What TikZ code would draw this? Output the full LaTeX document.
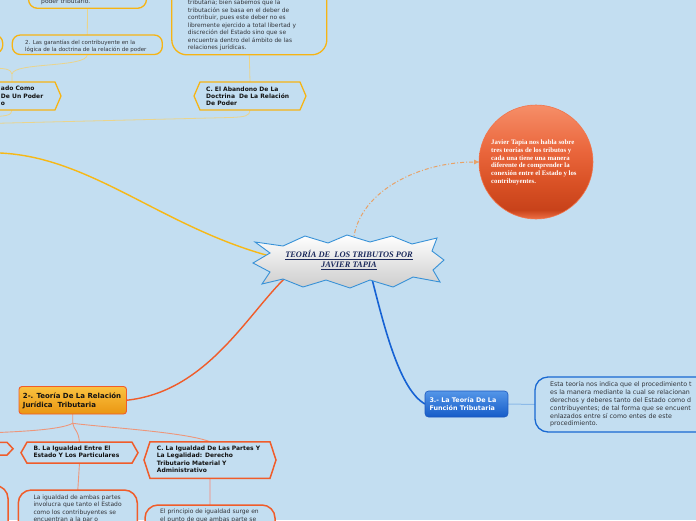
\documentclass[tikz,border=0pt]{standalone}
\usepackage{fontspec}
\setmainfont{DejaVu Sans}
\newfontfamily\serifbf{Liberation Serif}
\usetikzlibrary{arrows.meta}
\pgfdeclarelayer{bgl}
\pgfsetlayers{bgl,main}
\definecolor{bg}{RGB}{195,222,241}
\definecolor{ycol}{RGB}{246,180,20}
\definecolor{ylink}{RGB}{234,212,140}
\definecolor{ymain}{RGB}{247,184,22}
\definecolor{ocol}{RGB}{240,92,42}
\definecolor{olink}{RGB}{238,150,122}
\definecolor{plink}{RGB}{214,190,196}
\definecolor{bcol}{RGB}{22,98,212}
\definecolor{blink}{RGB}{140,186,232}
\definecolor{rbord}{RGB}{25,105,210}
\definecolor{dcol}{RGB}{232,162,104}
\definecolor{starb}{RGB}{55,145,215}
\definecolor{navy}{RGB}{28,42,92}
\definecolor{tgrey}{RGB}{50,52,58}
\definecolor{tblack}{RGB}{18,18,18}
\definecolor{bt1}{RGB}{84,150,232}
\definecolor{bt2}{RGB}{22,92,200}
\definecolor{bbord}{RGB}{28,88,190}
\definecolor{ot1}{RGB}{250,194,64}
\definecolor{ot2}{RGB}{234,150,18}
\definecolor{cb1}{RGB}{246,142,104}
\definecolor{cb2}{RGB}{234,102,60}
\definecolor{cb3}{RGB}{216,80,36}
\definecolor{cb4}{RGB}{200,66,26}
\definecolor{cb5}{RGB}{238,112,70}
\pgfdeclareverticalshading{circsh}{100bp}{color(0bp)=(cb5); color(25bp)=(cb5); color(29bp)=(cb4); color(40bp)=(cb3); color(55bp)=(cb2); color(75bp)=(cb1); color(100bp)=(cb1)}
\newcommand\fs[2]{\fontsize{#1}{#2}\selectfont}
\newcommand\tp{\rule{0pt}{0.95em}}
\newcommand\hexdraw[2]{\draw[#2] (#1.north west) -- (#1.north east) -- ([xshift=6pt]#1.east) -- (#1.south east) -- (#1.south west) -- ([xshift=-6pt]#1.west) -- cycle;}

\begin{document}
\begin{tikzpicture}[x=1pt,y=-1pt,
 shp/.style={inner sep=0pt, outer sep=0pt},
 ybox/.style={shp, fill=bg, draw=ycol, line width=1.3pt, rounded corners=#1},
 ybox/.default=8pt,
 obox/.style={shp, fill=bg, draw=ocol, line width=1.5pt, rounded corners=13pt},
 hexy/.style={fill=bg, draw=ycol, line width=1.3pt},
 hexo/.style={fill=bg, draw=ocol, line width=1.5pt},
 txt/.style={anchor=north west, inner sep=0pt, align=left},
 body/.style={txt, text=tgrey, font=\fs{6}{7.6}},
 boldt/.style={txt, text=tblack, font=\bfseries\fs{6}{7.4}},
 ythin/.style={draw=ylink, line width=0.8pt},
 othin/.style={draw=olink, line width=0.9pt},
]
\useasboundingbox (0,0) rectangle (696,520);
\begin{pgfonlayer}{bgl}
\fill[bg] (0,0) rectangle (696,520);
\end{pgfonlayer}

% ---------- upper (yellow) branch ----------
\node[ybox=9pt, minimum width=118pt, minimum height=30pt, anchor=south west] (tl) at (28.5,8.3) {};
\node[ybox=8pt, minimum width=40pt, minimum height=18.5pt, anchor=east] (lb1) at (2.7,44.2) {};
\node[ybox=8pt, minimum width=150pt, minimum height=19.5pt, anchor=north west] (g2) at (12.3,35) {};
\node[ybox=15pt, minimum width=155pt, minimum height=80pt, anchor=south west] (tb) at (171.8,54.8) {};
\node[shp, minimum width=86pt, minimum height=28pt, anchor=north] (hb) at (12,82) {};
\hexdraw{hb}{hexy}
\node[shp, minimum width=100pt, minimum height=28pt] (hc) at (250,96) {};
\hexdraw{hc}{hexy}

\node[body, anchor=west] (tlt) at (41,2.3) {poder tributario.};
\node[body, font=\fs{5.5}{7}] (g2t) at (25,38.6) {\tp 2. Las garantías del contribuyente en la\\lógica de la doctrina de la relación de poder};
\node[body, font=\fs{5.9}{7.5}] (tbt) at (187.7,-1) {\tp tributaria; bien sabemos que la\\tributación se basa en el deber de\\contribuir, pues este deber no es\\libremente ejercido a total libertad y\\discreción del Estado sino que se\\encuentra dentro del ámbito de las\\relaciones jurídicas.};
\node[boldt] (hbt) at (0.8,84.9) {\tp ado Como\\De Un Poder\\o};
\node[boldt] (hct) at (206,85.2) {\tp C. El Abandono De La\\Doctrina\ \ De La Relación\\De Poder};

% ---------- central star ----------
\path[top color=white, bottom color=black!20, draw=starb, line width=0.9pt]
 (255,242) -- (283,246) -- (305,236) -- (328,243) -- (347,235) -- (370,242) -- (392,236) -- (412,244) -- (437,238) -- (432,251) -- (444,260) -- (433,270) -- (440,282) -- (413,277) -- (393,287) -- (370,280) -- (350,288) -- (326,280) -- (303,287) -- (283,279) -- (262,284) -- (270,272) -- (253,263) -- (270,253) -- cycle;
\node[inner sep=0pt, align=center, text=navy, font=\serifbf\bfseries\itshape\fs{8.4}{10}] (root) at (349,260) {\underline{TEORÍA DE\ \ LOS TRIBUTOS POR}\\\underline{JAVIER TAPIA}};

% ---------- circle ----------
\node[circle, shp, minimum size=114pt, shading=circsh, draw=ocol!85!white, line width=0.6pt] (circ) at (536,162) {};
\node[txt, text=white, font=\serifbf\bfseries\fs{6.8}{7.7}] (circt) at (491,138) {\tp Javier Tapia nos habla sobre\\tres teorías de los tributos y\\cada una tiene una manera\\diferente de comprender la\\conexión entre el Estado y los\\contribuyentes.};

% ---------- right (blue) branch ----------
\node[shp, rounded corners=3.5pt, draw=bbord, line width=0.6pt, top color=bt1, bottom color=bt2, minimum width=83pt, minimum height=26pt, anchor=north west] (fb) at (425,391) {};
\node[txt, text=white, font=\bfseries\fs{6.4}{8}] (fbt) at (429.3,396.3) {\tp 3.- La Teoría De La\\Función Tributaria};
\node[shp, fill=bg, draw=rbord, line width=1.3pt, rounded corners=13pt, minimum width=200pt, minimum height=55pt, anchor=north west] (rb) at (535,377) {};
\node[body, font=\fs{6.3}{7.8}] (rbt) at (550,380.7) {\tp Esta teoría nos indica que el procedimiento t\\es la manera mediante la cual se relacionan\\derechos y deberes tanto del Estado como d\\contribuyentes; de tal forma que se encuent\\enlazados entre sí como entes de este\\procedimiento.};

% ---------- lower (orange) branch ----------
\node[shp, rounded corners=3pt, draw=ocol, line width=0.9pt, top color=ot1, bottom color=ot2, minimum width=107.5pt, minimum height=27.5pt, anchor=north west] (ob) at (19,386.5) {};
\node[txt, text=tblack, font=\bfseries\fs{7}{9}] (obt) at (22.7,391.5) {\tp 2-. Teoría De La Relación\\Jurídica\ \ Tributaria};
\node[shp, minimum width=60pt, minimum height=12.8pt, anchor=east] (hl) at (7,448.7) {};
\hexdraw{hl}{hexo}
\node[shp, minimum width=105pt, minimum height=21pt] (hB) at (79.5,452.7) {};
\hexdraw{hB}{hexo}
\node[shp, minimum width=120pt, minimum height=36.5pt] (hC) at (210,460) {};
\hexdraw{hC}{hexo}
\node[obox, minimum width=60pt, minimum height=60pt, anchor=north east] (lbb) at (8,485.5) {};
\node[obox, minimum width=119pt, minimum height=60pt, anchor=north west] (bb) at (18.3,490) {};
\node[obox, minimum width=130pt, minimum height=50pt, anchor=north west] (cb) at (145,505) {};

\node[boldt] (hBt) at (33.3,444.2) {\tp B. La Igualdad Entre El\\Estado Y Los Particulares};
\node[boldt, font=\bfseries\fs{6}{7.6}] (hCt) at (156.7,444.2) {\tp C. La Igualdad De Las Partes Y\\La Legalidad: Derecho\\Tributario Material Y\\Administrativo};
\node[body] (bbt) at (33.3,493.2) {\tp La igualdad de ambas partes\\involucra que tanto el Estado\\como los contribuyentes se\\encuentran a la par o};
\node[body] (cbt) at (160,507.6) {\tp El principio de igualdad surge en\\el punto de que ambas parte se};

% ---------- connectors (behind) ----------
\begin{pgfonlayer}{bgl}
\coordinate (p1) at (-20,152);
\coordinate (lbj) at (-12,68);
\coordinate (hlj) at (-12,433);
% yellow
\draw[ythin] (tl.south) -- (g2.north);
\draw[ythin] (g2.south) .. controls (87.5,68) and (14,62) .. (12,74) -- (hb.north);
\draw[ythin] (12,74) .. controls (11,69) and (5,68) .. (lbj);
\draw[ythin] (tb.south) -- (hc.north);
\draw[ythin] (hb.south) .. controls (12,116) and (5,116) .. (-12,117);
\draw[ythin] (hc.south) .. controls (250,116) and (245,117) .. (230,117.5) -- (-12,123.5);
\draw[draw=ymain, line width=1.4pt] (root.west) -- (266,255) .. controls (160,225) and (90,157) .. (0,153) -- (p1);
% dash-dot to the circle
\draw[draw=dcol, line width=1pt, dash pattern=on 4pt off 2pt on 1pt off 2pt, -{Triangle[length=5pt,width=4.5pt]}] (root.north) -- (354,236) .. controls (362,190) and (420,162) .. (circ.west);
% blue
\draw[draw=bcol, line width=1.6pt] (root.south) -- (372,279) .. controls (385,330) and (400,390) .. (fb.west);
\draw[draw=blink, line width=1pt] (fb.east) -- (rb.west);
% orange
\draw[draw=ocol, line width=1.4pt] (root.south) -- (284,279) .. controls (245,318) and (205,392) .. (ob.east);
\draw[othin] (ob.south) -- (72.7,423.3) .. controls (74,430) and (78.3,430) .. (hB.north);
\draw[othin] (72.7,423.3) .. controls (60,430) and (20,431.5) .. (hlj) -- (hl.north);
\draw[othin] (72.7,423.3) .. controls (100,427) and (186,432) .. (hC.north);
\draw[othin] (hB.south) -- (bb.north);
\draw[draw=plink, line width=1.2pt] (hC.south) -- (cb.north);
\end{pgfonlayer}
\end{tikzpicture}
\end{document}
